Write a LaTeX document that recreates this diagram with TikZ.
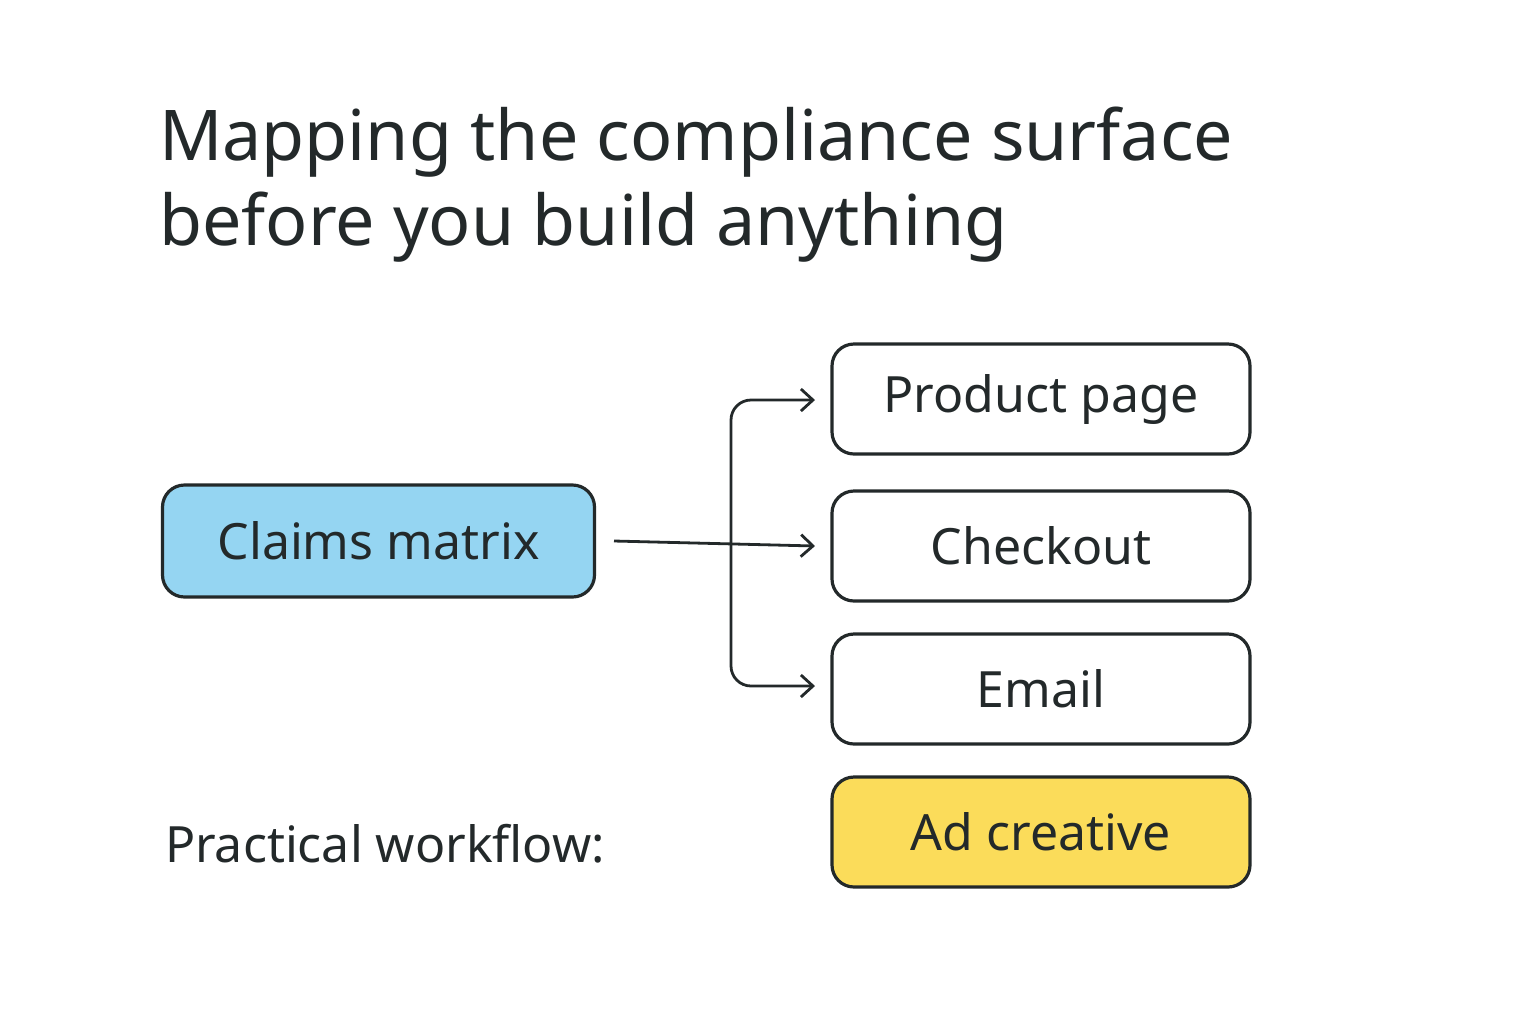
\documentclass[tikz,border=0pt]{standalone}
\usepackage{fontspec}
\setmainfont{Noto Sans}
\usetikzlibrary{arrows.meta}
\definecolor{ink}{HTML}{23292A}
\definecolor{blue}{HTML}{95D5F2}
\definecolor{yel}{HTML}{FBDC5A}
\begin{document}
\begin{tikzpicture}[x=0.5pt,y=-0.5pt,
  box/.style={draw=ink,line width=1.6pt,rounded corners=11pt,inner sep=0pt,text=ink,font=\fontsize{25}{30}\selectfont},
  rbox/.style={box,minimum width=209pt,minimum height=55pt,fill=white},
  arr/.style={draw=ink,line width=1.4pt,-{Straight Barb[length=6pt,width=11pt,line width=1.4pt]},rounded corners=10pt}]
\useasboundingbox (0,0) rectangle (1536,1024);
\node[anchor=base west,text=ink,font=\fontsize{35}{42}\selectfont\bfseries] (t1) at (152,160) {Mapping the compliance surface};
\node[anchor=base west,text=ink,font=\fontsize{35}{42}\selectfont\bfseries] (t2) at (152,245) {before you build anything};
\node[box,fill=blue,minimum width=216pt,minimum height=56pt] (cm) at (378.5,541) {Claims matrix};
\node[rbox] (pp) at (1041,399) {Product page};
\node[rbox] (co) at (1041,546) {Checkout};
\node[rbox] (em) at (1041,689) {Email};
\node[rbox,fill=yel] (ad) at (1041,832) {Ad creative};
\node[anchor=base west,text=ink,font=\fontsize{25}{30}\selectfont] (pw) at (158,862) {Practical workflow:};
\coordinate (s) at (614,541);
\coordinate (b) at (731,541);
\draw[arr] (s) -- (co.west -| 815,541) coordinate (e2);
\draw[arr] (b) |- (815,400) coordinate (e1);
\draw[arr] (b) |- (815,686) coordinate (e3);
\end{tikzpicture}
\end{document}
